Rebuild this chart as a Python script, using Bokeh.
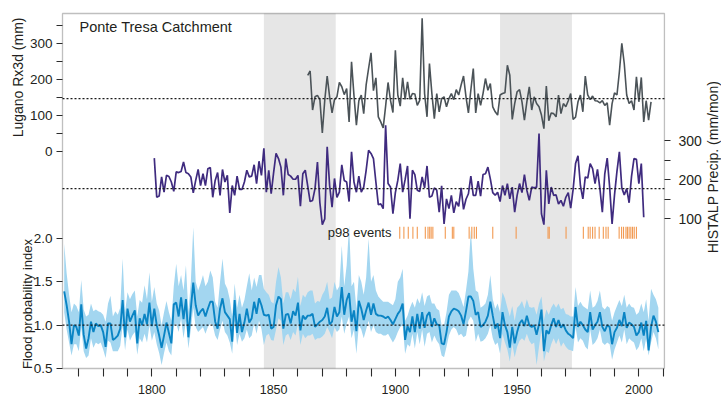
from bokeh.plotting import figure
from bokeh.models import (Range1d, LinearAxis, FixedTicker, CustomJSTickFormatter,
                          BoxAnnotation, Label)
from bokeh.embed import file_html
from bokeh.resources import INLINE

# ---------------------------------------------------------------- data
FLOOD_FIRST_YEAR = 1764
FLOOD_INDEX = [
    1.39, 1.23, 1.04, 0.78, 1.00, 0.98,
    0.88, 1.24, 0.89, 0.73, 0.85, 1.04, 0.92, 1.02, 0.99, 1.00,
    0.92, 0.75, 1.02, 1.02, 0.83, 0.85, 0.88, 0.96, 1.29, 0.86,
    1.19, 1.04, 1.11, 1.17, 0.79, 1.08, 1.00, 1.13, 1.01, 1.26,
    0.99, 1.19, 1.00, 0.88, 0.74, 0.88, 1.03, 0.91, 0.79, 1.24,
    1.26, 1.10, 1.32, 1.07, 1.30, 0.86, 1.19, 1.49, 1.23, 1.11,
    1.16, 1.19, 1.10, 1.19, 1.27, 1.27, 1.04, 0.96, 1.19, 1.31,
    1.15, 1.11, 1.07, 0.81, 1.29, 0.91, 1.13, 0.92, 1.03, 1.19,
    1.03, 1.08, 1.27, 1.13, 1.31, 1.23, 1.12, 1.11, 1.12, 0.96,
    0.98, 1.23, 1.33, 1.30, 0.96, 1.12, 1.13, 1.02, 1.16, 1.11,
    1.26, 0.94, 1.11, 1.07, 1.11, 1.11, 1.13, 0.98, 1.01, 1.04,
    1.06, 1.10, 1.20, 1.01, 1.04, 1.21, 1.10, 1.15, 1.44, 1.12,
    1.29, 1.37, 1.04, 1.17, 0.93, 1.28, 1.19, 1.06, 1.17, 1.26,
    1.12, 1.25, 1.13, 1.11, 1.11, 1.10, 1.08, 1.10, 1.06, 1.01,
    1.07, 1.13, 1.17, 1.25, 0.83, 0.99, 0.92, 1.10, 0.92, 1.13,
    0.96, 1.15, 0.97, 1.11, 1.15, 0.98, 1.08, 1.01, 1.00, 0.79,
    0.78, 0.92, 1.10, 1.16, 1.19, 1.18, 1.16, 1.11, 1.01, 1.16,
    1.33, 1.33, 1.28, 1.12, 1.15, 0.98, 1.00, 1.04, 1.11, 1.27,
    1.11, 0.96, 1.02, 0.85, 1.15, 1.00, 0.92, 0.74, 0.98, 0.79,
    0.92, 1.02, 1.06, 0.99, 1.11, 1.00, 0.98, 1.00, 0.89, 1.01,
    1.18, 0.70, 0.94, 0.90, 1.00, 1.08, 0.98, 1.06, 0.97, 1.01,
    0.94, 0.90, 0.88, 0.85, 1.21, 0.98, 1.04, 1.00, 0.95, 0.92,
    1.15, 0.95, 1.00, 1.04, 1.15, 0.98, 0.93, 1.00, 0.98, 0.78,
    0.92, 0.97, 1.06, 0.99, 1.15, 0.97, 1.03, 1.01, 0.98, 0.88,
    0.92, 1.03, 0.88, 1.05, 0.71, 0.98, 1.11, 1.04, 0.92,
]
FLOOD_UPPER = [
    1.94, 1.60, 1.35, 1.15, 1.25, 1.22,
    1.15, 1.52, 1.18, 1.10, 1.12, 1.25, 1.16, 1.18, 1.16, 1.15,
    1.12, 1.04, 1.25, 1.34, 1.10, 1.16, 1.12, 1.20, 1.77, 1.15,
    1.38, 1.30, 1.36, 1.40, 1.10, 1.29, 1.26, 1.46, 1.30, 1.61,
    1.27, 1.44, 1.25, 1.17, 1.00, 1.15, 1.28, 1.15, 1.05, 1.45,
    1.71, 1.45, 1.58, 1.40, 1.69, 1.15, 1.50, 2.13, 1.50, 1.40,
    1.48, 1.58, 1.45, 1.50, 1.63, 1.55, 1.27, 1.20, 1.50, 1.77,
    1.48, 1.42, 1.30, 1.10, 1.48, 1.20, 1.35, 1.20, 1.29, 1.45,
    1.60, 1.40, 1.55, 1.44, 1.58, 1.58, 1.42, 1.38, 1.35, 1.27,
    1.25, 1.50, 1.67, 1.55, 1.25, 1.38, 1.38, 1.30, 1.42, 1.38,
    1.56, 1.22, 1.35, 1.32, 1.38, 1.40, 1.40, 1.25, 1.28, 1.27,
    1.35, 1.40, 1.50, 1.30, 1.32, 1.50, 1.40, 1.45, 1.92, 1.45,
    1.69, 2.15, 1.45, 1.50, 1.19, 1.58, 1.50, 1.35, 1.55, 2.00,
    1.50, 1.58, 1.40, 1.33, 1.30, 1.27, 1.27, 1.27, 1.25, 1.23,
    1.30, 1.50, 1.55, 1.65, 1.05, 1.11, 1.20, 1.27, 1.20, 1.31,
    1.25, 1.38, 1.22, 1.33, 1.35, 1.25, 1.25, 1.19, 1.17, 1.00,
    1.00, 1.15, 1.35, 1.40, 1.40, 1.40, 1.37, 1.30, 1.21, 1.40,
    1.62, 2.10, 1.65, 1.40, 1.38, 1.20, 1.22, 1.25, 1.35, 1.58,
    1.30, 1.19, 1.25, 1.15, 1.38, 1.31, 1.20, 1.10, 1.22, 1.05,
    1.20, 1.23, 1.28, 1.19, 1.30, 1.21, 1.20, 1.21, 1.12, 1.25,
    1.33, 1.06, 1.18, 1.12, 1.20, 1.25, 1.20, 1.25, 1.18, 1.20,
    1.13, 1.12, 1.10, 1.10, 1.44, 1.22, 1.27, 1.22, 1.20, 1.18,
    1.40, 1.20, 1.22, 1.28, 1.40, 1.21, 1.18, 1.22, 1.20, 1.05,
    1.15, 1.22, 1.29, 1.22, 1.35, 1.20, 1.25, 1.21, 1.20, 1.12,
    1.15, 1.25, 1.15, 1.30, 1.05, 1.42, 1.35, 1.30, 1.20,
]
FLOOD_LOWER = [
    1.15, 0.95, 0.80, 0.65, 0.78, 0.78,
    0.70, 0.98, 0.70, 0.62, 0.65, 0.85, 0.74, 0.80, 0.78, 0.80,
    0.72, 0.62, 0.82, 0.80, 0.70, 0.70, 0.70, 0.76, 1.00, 0.71,
    0.95, 0.82, 0.88, 0.92, 0.66, 0.85, 0.80, 0.90, 0.80, 1.00,
    0.82, 0.92, 0.78, 0.68, 0.54, 0.68, 0.80, 0.70, 0.65, 1.00,
    1.02, 0.92, 1.08, 0.85, 1.05, 0.73, 0.95, 1.20, 0.98, 0.92,
    0.95, 0.98, 0.90, 0.98, 1.02, 1.00, 0.88, 0.83, 0.95, 1.05,
    0.92, 0.88, 0.80, 0.67, 1.05, 0.77, 0.90, 0.81, 0.85, 0.95,
    0.85, 0.88, 1.02, 0.90, 1.05, 0.96, 0.77, 0.88, 0.90, 0.83,
    0.82, 0.95, 1.08, 1.05, 0.77, 0.88, 0.90, 0.83, 0.92, 0.88,
    1.02, 0.77, 0.90, 0.85, 0.88, 0.88, 0.90, 0.83, 0.85, 0.85,
    0.87, 0.90, 0.98, 0.92, 0.85, 0.98, 0.92, 0.95, 1.10, 0.90,
    1.02, 1.10, 0.85, 0.95, 0.67, 1.00, 0.95, 0.85, 0.95, 1.05,
    0.92, 1.00, 0.92, 0.90, 0.90, 0.88, 0.88, 0.90, 0.85, 0.80,
    0.85, 0.92, 0.98, 1.00, 0.67, 0.78, 0.75, 0.90, 0.73, 0.92,
    0.78, 0.95, 0.75, 0.90, 0.92, 0.80, 0.88, 0.82, 0.78, 0.65,
    0.63, 0.75, 0.88, 0.95, 0.98, 0.95, 0.88, 0.90, 0.86, 0.88,
    1.05, 1.10, 1.05, 0.81, 0.90, 0.81, 0.82, 0.85, 0.90, 1.00,
    0.85, 0.77, 0.80, 0.67, 0.90, 0.80, 0.72, 0.58, 0.78, 0.63,
    0.75, 0.82, 0.85, 0.82, 0.90, 0.82, 0.78, 0.80, 0.54, 0.75,
    0.95, 0.58, 0.70, 0.68, 0.78, 0.85, 0.78, 0.85, 0.75, 0.80,
    0.75, 0.72, 0.71, 0.70, 0.98, 0.80, 0.85, 0.82, 0.75, 0.72,
    0.95, 0.77, 0.80, 0.85, 0.95, 0.80, 0.77, 0.80, 0.78, 0.60,
    0.72, 0.80, 0.88, 0.80, 0.95, 0.78, 0.85, 0.82, 0.80, 0.71,
    0.75, 0.85, 0.70, 0.85, 0.65, 0.80, 0.92, 0.85, 0.72,
]

HISTALP_FIRST_YEAR = 1801
HISTALP_PRECIP = [
    255, 155, 158, 207, 168, 211, 208, 194, 170, 220,
    218, 221, 245, 218, 215, 207, 166, 198, 226, 185,
    215, 185, 228, 231, 155, 198, 218, 160, 226, 194,
    211, 115, 185, 160, 209, 175, 175, 194, 224, 207,
    209, 238, 190, 247, 211, 280, 168, 224, 164, 218,
    267, 254, 232, 160, 254, 213, 209, 201, 201, 211,
    132, 215, 224, 184, 144, 147, 177, 245, 141, 85,
    100, 284, 185, 130, 203, 155, 168, 238, 198, 194,
    144, 271, 194, 168, 209, 168, 181, 224, 275, 267,
    254, 194, 136, 138, 126, 339, 190, 181, 113, 167,
    198, 241, 168, 200, 235, 100, 224, 213, 173, 170,
    207, 179, 235, 155, 158, 179, 173, 117, 184, 87,
    151, 126, 160, 115, 144, 132, 179, 124, 150, 164,
    209, 160, 160, 196, 158, 213, 215, 232, 202, 167,
    160, 168, 144, 185, 160, 190, 151, 181, 117, 160,
    190, 167, 213, 173, 147, 181, 179, 181, 318, 113,
    85, 224, 138, 181, 160, 161, 138, 147, 132, 155,
    167, 127, 175, 241, 261, 185, 151, 207, 204, 241,
    228, 190, 226, 177, 117, 215, 255, 181, 87, 161,
    221, 271, 179, 161, 177, 141, 209, 254, 252, 190,
    241, 104,
]

LUGANO_FIRST_YEAR = 1864
LUGANO_RX3D = [
    212, 224, 115, 152, 156, 144, 51,
    142, 210, 152, 107, 144, 152, 192, 180, 158, 175,
    82, 250, 156, 73, 141, 157, 105, 185, 231, 275,
    169, 205, 96, 82, 65, 126, 192, 142, 108, 282,
    157, 126, 205, 145, 194, 145, 161, 160, 128, 142,
    371, 161, 96, 245, 161, 91, 161, 110, 147, 152,
    124, 147, 161, 144, 172, 157, 185, 210, 152, 107,
    171, 231, 107, 161, 128, 161, 203, 170, 189, 124,
    110, 101, 157, 161, 163, 240, 212, 89, 133, 166,
    172, 138, 87, 138, 180, 115, 152, 133, 124, 101,
    63, 182, 85, 107, 105, 96, 157, 105, 133, 124,
    141, 161, 89, 95, 138, 157, 110, 210, 157, 144,
    154, 141, 140, 135, 141, 128, 135, 73, 133, 163,
    157, 222, 301, 245, 157, 133, 141, 115, 208, 138,
    206, 82, 141, 87, 138,
]

P98_EVENTS = [
    1901.8, 1903.5, 1905.3, 1907.2, 1909.0, 1912.3, 1913.4, 1914.1, 1914.7, 1915.4,
    1920.5, 1923.4, 1924.0, 1930.3, 1931.4, 1932.4, 1933.3, 1940.0, 1949.6,
    1962.7, 1963.2, 1970.1, 1977.2, 1979.2, 1980.0, 1981.0, 1982.0, 1983.7,
    1985.4, 1986.5, 1987.4, 1991.9, 1992.9, 1993.7, 1994.7, 1995.3, 1996.0,
    1996.7, 1997.4, 1998.1, 1999.0,
]

SHADED_PERIODS = [(1846.0, 1875.5), (1943.0, 1972.5)]
LUGANO_MEAN = 147
HISTALP_MEAN = 177
FLOOD_REFERENCE = 1.0

X_MAJOR_TICKS = [1800, 1850, 1900, 1950, 2000]
X_MINOR_TICKS = [1770, 1780, 1790, 1810, 1820, 1830, 1840, 1860, 1870, 1880, 1890,
                 1910, 1920, 1930, 1940, 1960, 1970, 1980, 1990, 2010]
FLOOD_TICKS = [0.5, 1.0, 1.5, 2.0]
LUGANO_TICKS = [0, 100, 200, 300]
LUGANO_MINOR_TICKS = [50, 150, 250, 350]
HISTALP_TICKS = [100, 200, 300]
HISTALP_MINOR_TICKS = [150, 250]

flood_years = list(range(FLOOD_FIRST_YEAR, FLOOD_FIRST_YEAR + len(FLOOD_INDEX)))
histalp_years = list(range(HISTALP_FIRST_YEAR, HISTALP_FIRST_YEAR + len(HISTALP_PRECIP)))
lugano_years = list(range(LUGANO_FIRST_YEAR, LUGANO_FIRST_YEAR + len(LUGANO_RX3D)))

# ---------------------------------------------------------------- layout
W, H = 721, 395
BOX_X = (1763.3, 2010.5)          # x extent of the framed box (years)
BOX_LEFT_PX, PX_PER_YEAR = 62, 2.435


def vrange(value, at_py, px_per_unit):
    """vertical range spanning the whole canvas, with `value` drawn at pixel row `at_py`"""
    start = value - (H - at_py) / px_per_unit
    return (start, start + H / px_per_unit)


X_START = BOX_X[0] - BOX_LEFT_PX / PX_PER_YEAR
X_VIEW = (X_START, X_START + W / PX_PER_YEAR)
FLOOD_VIEW = vrange(0.5, 368.0, 86.67)
LUGANO_VIEW = vrange(0.0, 150.7, 0.358)
HISTALP_VIEW = vrange(100.0, 218.3, 0.3915)
EVENT_VIEW = vrange(0.0, 238.3, 12.0)
BOX_FLOOD = (0.5, 0.5 + (368.0 - 13.0) / 86.67)   # box bottom / top in flood units

FONT = "Liberation Sans"
INK = "#231f20"
FRAME = "#2b2b2b"

p = figure(width=W, height=H,
           x_range=Range1d(*X_VIEW), y_range=Range1d(*FLOOD_VIEW),
           output_backend="svg", toolbar_location=None,
           min_border_left=0, min_border_right=0, min_border_top=0, min_border_bottom=0,
           background_fill_color="white", border_fill_color="white",
           outline_line_color=None)
p.extra_y_ranges = {
    "lugano": Range1d(*LUGANO_VIEW),
    "histalp": Range1d(*HISTALP_VIEW),
    "events": Range1d(*EVENT_VIEW),
}
p.xgrid.visible = False
p.ygrid.visible = False


def to_flood(v):
    f0, f1 = FLOOD_VIEW
    l0, l1 = LUGANO_VIEW
    return f0 + (v - l0) * (f1 - f0) / (l1 - l0)


def style_axis(ax, size, tick_out, standoff):
    ax.axis_line_color = None
    ax.major_tick_line_color = FRAME
    ax.minor_tick_line_color = FRAME
    ax.major_tick_line_width = 1.1
    ax.minor_tick_line_width = 1.1
    ax.major_tick_in = 0
    ax.minor_tick_in = 0
    ax.major_tick_out = tick_out
    ax.minor_tick_out = tick_out
    ax.major_label_text_font = FONT
    ax.major_label_text_font_size = size
    ax.major_label_text_color = INK
    ax.major_label_standoff = standoff


# shaded periods
for a, b in SHADED_PERIODS:
    p.add_layout(BoxAnnotation(left=a, right=b, bottom=BOX_FLOOD[0], top=BOX_FLOOD[1],
                               fill_color="#e6e6e6", fill_alpha=1.0,
                               line_color=None, level="underlay"))

# bottom axis (fixed on the box's lower edge)
xa = p.xaxis[0]
xa.fixed_location = BOX_FLOOD[0]
xa.ticker = FixedTicker(ticks=X_MAJOR_TICKS, minor_ticks=X_MINOR_TICKS)
style_axis(xa, "12.5px", 8, 8)

# left axis: flood index (lower) + Lugano Rx3d (upper) share one spine
ya = p.yaxis[0]
ya.fixed_location = BOX_X[0]
ya.ticker = FixedTicker(ticks=FLOOD_TICKS + [to_flood(v) for v in LUGANO_TICKS],
                        minor_ticks=[to_flood(v) for v in LUGANO_MINOR_TICKS])
ya.formatter = CustomJSTickFormatter(
    args=dict(F0=FLOOD_VIEW[0], F1=FLOOD_VIEW[1], L0=LUGANO_VIEW[0], L1=LUGANO_VIEW[1]),
    code="""
    if (tick < 2.5) { return tick.toFixed(1); }
    const v = L0 + (tick - F0) * (L1 - L0) / (F1 - F0);
    return Math.round(v).toFixed(0);
    """)
style_axis(ya, "13.5px", 6, 4)

# right axis: HISTALP precipitation
ra = LinearAxis(y_range_name="histalp", fixed_location=BOX_X[1],
                ticker=FixedTicker(ticks=HISTALP_TICKS, minor_ticks=HISTALP_MINOR_TICKS))
style_axis(ra, "14px", 6, 8)
p.add_layout(ra, "right")

# flood probability index with uncertainty band
p.varea(x=flood_years, y1=FLOOD_LOWER, y2=FLOOD_UPPER, fill_color="#a3d6f0", fill_alpha=1.0)
p.line(flood_years, FLOOD_INDEX, line_color="#0a84c4", line_width=1.9)

# HISTALP precipitation
p.line(histalp_years, HISTALP_PRECIP, y_range_name="histalp",
       line_color="#3f2b7f", line_width=1.7)

# Lugano Rx3d
p.line(lugano_years, LUGANO_RX3D, y_range_name="lugano",
       line_color="#4b5358", line_width=1.6)

# p98 events
p.segment(x0=P98_EVENTS, y0=0, x1=P98_EVENTS, y1=1, y_range_name="events",
          line_color="#f29a52", line_width=1.1)

# dotted reference lines across the box
for loc, rng in [(LUGANO_MEAN, "lugano"), (HISTALP_MEAN, "histalp"), (FLOOD_REFERENCE, "default")]:
    p.segment(x0=BOX_X[0], x1=BOX_X[1], y0=loc, y1=loc, y_range_name=rng,
              line_color="#1a1a1a", line_dash="2 2", line_width=1.3)

# the framed box
p.add_layout(BoxAnnotation(left=BOX_X[0], right=BOX_X[1], bottom=BOX_FLOOD[0], top=BOX_FLOOD[1],
                           fill_color=None, line_color=FRAME, line_width=1.3))

# texts
p.add_layout(Label(x=1770.3, y=367.9, y_range_name="lugano", text="Ponte Tresa Catchment",
                   text_font=FONT, text_font_size="14.5px", text_color=INK,
                   text_align="left", text_baseline="top"))
p.add_layout(Label(x=1898.4, y=0.5, y_range_name="events", text="p98 events",
                   text_font=FONT, text_font_size="13px", text_color=INK,
                   text_align="right", text_baseline="middle"))
p.add_layout(Label(x=1745.2, y=206, y_range_name="lugano", text="Lugano Rx3d (mm)",
                   angle=90, angle_units="deg",
                   text_font=FONT, text_font_size="14px", text_color=INK,
                   text_align="center", text_baseline="middle"))
p.add_layout(Label(x=1748.9, y=1.244, text="Flood probability index",
                   angle=90, angle_units="deg",
                   text_font=FONT, text_font_size="13px", text_color=INK,
                   text_align="center", text_baseline="middle"))
p.add_layout(Label(x=2030.6, y=232, y_range_name="histalp", text="HISTALP Precip. (mm/mon)",
                   angle=90, angle_units="deg",
                   text_font=FONT, text_font_size="14px", text_color=INK,
                   text_align="center", text_baseline="middle"))

open("out.html", "w").write(file_html(p, INLINE))
